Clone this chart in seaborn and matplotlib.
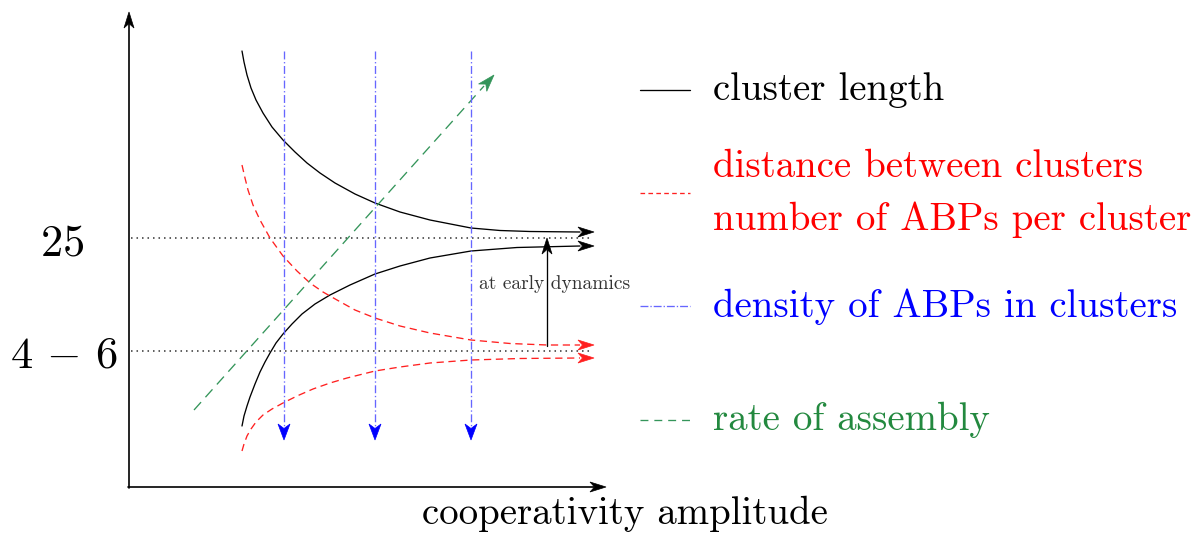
import numpy as np
import seaborn as sns
import matplotlib.pyplot as plt

# Estilo e fontes (Computer Modern como no LaTeX)
sns.set_theme(style="white")
plt.rcParams['font.family'] = 'serif'
plt.rcParams['font.serif'] = ['cmr10']
plt.rcParams['mathtext.fontset'] = 'cm'
plt.rcParams['axes.formatter.use_mathtext'] = True
plt.rcParams['text.color'] = 'black'

# Curvas (coordenadas em pixels, y cresce para baixo)
black_top_x = [242, 244, 247, 251, 256, 263, 272, 283, 295, 307, 320, 335, 355,
               375, 400, 430, 471, 500, 530, 580]
black_top_y = [51, 62, 75, 88, 100, 113, 127, 140, 152, 163, 173, 183, 194,
               203, 212, 220, 228, 230.5, 231.5, 232]
black_bot_x = [242, 244, 247, 250, 255, 260, 265, 270, 276, 283, 292, 302, 315,
               330, 350, 375, 400, 430, 471, 517, 580]
black_bot_y = [426, 416, 406, 397, 384, 372, 362, 353, 343, 334, 324, 314, 304,
               295, 285, 274, 266, 258, 251, 247.5, 246]
red_top_x = [242, 245, 248, 253, 260, 270, 283, 297, 310, 323, 337, 355, 375,
             400, 430, 471, 510, 547, 580]
red_top_y = [165, 178, 190, 205, 220, 238, 256, 271, 283, 292, 300, 310, 318,
             326, 333, 340, 343.5, 345, 345]
red_bot_x = [242, 244, 247, 251, 256, 263, 272, 283, 297, 313, 330, 347, 375,
             400, 430, 471, 520, 580]
red_bot_y = [451, 444, 436, 429, 422, 415, 409, 403, 396, 389, 383, 378, 371,
             367, 363, 360, 358.5, 358]
green_x = [194, 484]
green_y = [410, 86]

arrow_tip_x = 594
arrow_tips_y = [232, 246, 345, 358]
green_tip = (494, 75)
blue_x = [284, 375, 471]
blue_top, blue_tip = 51, 440
dotted_y = [238, 351]
level_labels = ['$25$', r'$4\,-\,6$']

legend_labels = ['cluster length', 'distance between clusters',
                 'number of ABPs per cluster', 'density of ABPs in clusters',
                 'rate of assembly']
legend_colors = ['black', 'red', 'red', '#0000ff', '#23893f']
legend_baselines = [100, 176.7, 230, 316.7, 430]

BLACK = 'black'
RED = '#ff2020'
BLUE = '#6666ff'
GREEN = '#34955a'
LW = 0.95

fig, ax = plt.subplots(figsize=(12.03, 5.33), dpi=100)
ax.set_position([0, 0, 1, 1])
ax.set_xlim(0, 1203)
ax.set_ylim(533, 0)
ax.axis('off')


def stealth(x0, y0, x1, y1, color, L=15, W=4.5):
    # ponta de seta estilo "stealth" (TikZ) apontando de (x0,y0) para (x1,y1)
    u = np.array([x1 - x0, y1 - y0], float)
    u /= np.hypot(*u)
    v = np.array([-u[1], u[0]])
    tip = np.array([x1, y1], float)
    back = tip - L * u
    notch = tip - 0.72 * L * u
    pts = np.array([tip, back + W * v, notch, back - W * v])
    ax.fill(pts[:, 0], pts[:, 1], color=color, lw=0.5, edgecolor=color, zorder=5)
    return notch


def arrow(x0, y0, x1, y1, color, lw=LW, **kw):
    n = stealth(x0, y0, x1, y1, color, **kw)
    ax.plot([x0, n[0]], [y0, n[1]], color=color, lw=lw)


# eixos
arrow(129, 488, 129, 12, BLACK, lw=1.2, L=16, W=5)
arrow(128, 487, 606, 487, BLACK, lw=1.2, L=16, W=5)

# linhas pontilhadas de referência
for y in dotted_y:
    ax.plot([131, 590], [y, y], color='#333333', lw=1.1, linestyle=(0, (1, 2.6)))
ax.text(62, 255, level_labels[0], fontsize=32, ha='center', va='baseline')
ax.text(64, 367, level_labels[1], fontsize=32, ha='center', va='baseline')

# curvas
sns.lineplot(x=black_top_x, y=black_top_y, color=BLACK, lw=LW, estimator=None, sort=False, ax=ax)
sns.lineplot(x=black_bot_x, y=black_bot_y, color=BLACK, lw=LW, estimator=None, sort=False, ax=ax)
sns.lineplot(x=red_top_x, y=red_top_y, color=RED, lw=LW, linestyle=(0, (5.5, 3.5)),
             estimator=None, sort=False, ax=ax)
sns.lineplot(x=red_bot_x, y=red_bot_y, color=RED, lw=LW, linestyle=(0, (5.5, 3.5)),
             estimator=None, sort=False, ax=ax)
sns.lineplot(x=green_x, y=green_y, color=GREEN, lw=LW, linestyle=(0, (8, 5)),
             estimator=None, sort=False, ax=ax)

ends = [(black_top_x[-1], black_top_y[-1]), (black_bot_x[-1], black_bot_y[-1]),
        (red_top_x[-1], red_top_y[-1]), (red_bot_x[-1], red_bot_y[-1])]
for (cx, cy), ty, col in zip(ends, arrow_tips_y, [BLACK, BLACK, RED, RED]):
    stealth(cx - 2, cy, arrow_tip_x, ty, col, L=16, W=5)

stealth(green_x[0], green_y[0], green_tip[0], green_tip[1], GREEN, L=17, W=5.5)

# linhas azuis (densidade)
ax.vlines(blue_x, blue_top, blue_tip - 11, color=BLUE, lw=LW,
          linestyles=[(0, (6, 2, 1, 2))])
for x in blue_x:
    stealth(x, blue_top, x, blue_tip, '#0000ff', L=16, W=6)

# seta "at early dynamics"
arrow(547, 346, 547, 238, BLACK, L=16, W=5)
ax.text(555, 284, 'at early dynamics', fontsize=14, color='#333333', ha='center', va='center')

# rótulo do eixo x
ax.text(625, 524, 'cooperativity amplitude', fontsize=28, ha='center', va='baseline')

# legenda manual
ax.plot([640, 690], [90, 90], color=BLACK, lw=LW)
ax.plot([640, 690], [193, 193], color=RED, lw=LW, linestyle=(0, (3.5, 2.5)))
ax.plot([640, 690], [306, 306], color=BLUE, lw=LW, linestyle=(0, (6, 1.5, 1, 1.5)))
ax.plot([640, 690], [420, 420], color=GREEN, lw=LW, linestyle=(0, (6, 4.5)))
for label, col, yb in zip(legend_labels, legend_colors, legend_baselines):
    ax.text(713, yb, label, fontsize=28, color=col, ha='left', va='baseline')

plt.savefig('out.png', dpi=100)
